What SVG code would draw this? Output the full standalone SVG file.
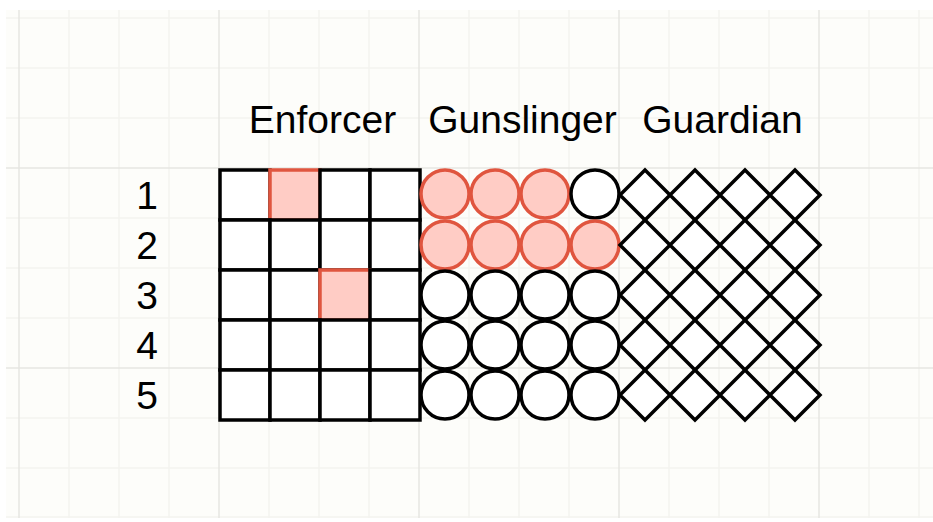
<svg xmlns="http://www.w3.org/2000/svg" width="933" height="522" viewBox="0 0 933 522">
<style>
.minor{stroke:#f3f3ef;stroke-width:1.5}
.major{stroke:#e6e6e2;stroke-width:1.5}
.lbl{font-family:"Liberation Sans",Arial,sans-serif;font-size:39px;fill:#000}
.cell{fill:#fff;stroke:#000;stroke-width:3.5}
.hit{fill:#ffccc5;stroke:#e0553f;stroke-width:3.5}
</style>
<rect x="0" y="0" width="933" height="522" fill="#ffffff"/>
<rect x="6" y="10" width="927" height="508" fill="#fdfdfa"/>
<g id="grid">
<g class="minor">
<line x1="69" y1="10" x2="69" y2="518"/><line x1="119" y1="10" x2="119" y2="518"/><line x1="169" y1="10" x2="169" y2="518"/>
<line x1="269" y1="10" x2="269" y2="518"/><line x1="319" y1="10" x2="319" y2="518"/><line x1="369" y1="10" x2="369" y2="518"/>
<line x1="469" y1="10" x2="469" y2="518"/><line x1="519" y1="10" x2="519" y2="518"/><line x1="569" y1="10" x2="569" y2="518"/>
<line x1="669" y1="10" x2="669" y2="518"/><line x1="719" y1="10" x2="719" y2="518"/><line x1="769" y1="10" x2="769" y2="518"/>
<line x1="869" y1="10" x2="869" y2="518"/><line x1="919" y1="10" x2="919" y2="518"/>
<line x1="6" y1="18" x2="933" y2="18"/><line x1="6" y1="68" x2="933" y2="68"/><line x1="6" y1="118" x2="933" y2="118"/>
<line x1="6" y1="218" x2="933" y2="218"/><line x1="6" y1="268" x2="933" y2="268"/><line x1="6" y1="318" x2="933" y2="318"/>
<line x1="6" y1="418" x2="933" y2="418"/><line x1="6" y1="468" x2="933" y2="468"/><line x1="6" y1="517" x2="933" y2="517"/>
</g>
<g class="major">
<line x1="19" y1="10" x2="19" y2="518"/><line x1="219" y1="10" x2="219" y2="518"/><line x1="419" y1="10" x2="419" y2="518"/>
<line x1="619" y1="10" x2="619" y2="518"/><line x1="819" y1="10" x2="819" y2="518"/>
<line x1="6" y1="168" x2="933" y2="168"/><line x1="6" y1="368" x2="933" y2="368"/>
</g>
</g>
<g id="headers">
<text class="lbl" x="322.5" y="133" text-anchor="middle">Enforcer</text>
<text class="lbl" x="522.5" y="133" text-anchor="middle">Gunslinger</text>
<text class="lbl" x="722.5" y="133" text-anchor="middle">Guardian</text>
</g>
<g id="rows">
<text class="lbl" x="147" y="209" text-anchor="middle">1</text>
<text class="lbl" x="147" y="259" text-anchor="middle">2</text>
<text class="lbl" x="147" y="309" text-anchor="middle">3</text>
<text class="lbl" x="147" y="359" text-anchor="middle">4</text>
<text class="lbl" x="147" y="409" text-anchor="middle">5</text>
</g>
<g id="enforcer">
<rect class="cell" x="220" y="170" width="50" height="50"/><rect class="hit" x="270" y="170" width="50" height="50"/><rect class="cell" x="320" y="170" width="50" height="50"/><rect class="cell" x="370" y="170" width="50" height="50"/>
<rect class="cell" x="220" y="220" width="50" height="50"/><rect class="cell" x="270" y="220" width="50" height="50"/><rect class="cell" x="320" y="220" width="50" height="50"/><rect class="cell" x="370" y="220" width="50" height="50"/>
<rect class="cell" x="220" y="270" width="50" height="50"/><rect class="cell" x="270" y="270" width="50" height="50"/><rect class="hit" x="320" y="270" width="50" height="50"/><rect class="cell" x="370" y="270" width="50" height="50"/>
<rect class="cell" x="220" y="320" width="50" height="50"/><rect class="cell" x="270" y="320" width="50" height="50"/><rect class="cell" x="320" y="320" width="50" height="50"/><rect class="cell" x="370" y="320" width="50" height="50"/>
<rect class="cell" x="220" y="370" width="50" height="50"/><rect class="cell" x="270" y="370" width="50" height="50"/><rect class="cell" x="320" y="370" width="50" height="50"/><rect class="cell" x="370" y="370" width="50" height="50"/>
</g>
<g id="gunslinger">
<circle class="hit" cx="445" cy="194" r="24"/><circle class="hit" cx="495" cy="194" r="24"/><circle class="hit" cx="545" cy="194" r="24"/><circle class="cell" cx="595" cy="194" r="24"/>
<circle class="hit" cx="445" cy="245" r="24"/><circle class="hit" cx="495" cy="245" r="24"/><circle class="hit" cx="545" cy="245" r="24"/><circle class="hit" cx="595" cy="245" r="24"/>
<circle class="cell" cx="445" cy="295" r="24"/><circle class="cell" cx="495" cy="295" r="24"/><circle class="cell" cx="545" cy="295" r="24"/><circle class="cell" cx="595" cy="295" r="24"/>
<circle class="cell" cx="445" cy="345" r="24"/><circle class="cell" cx="495" cy="345" r="24"/><circle class="cell" cx="545" cy="345" r="24"/><circle class="cell" cx="595" cy="345" r="24"/>
<circle class="cell" cx="445" cy="395" r="24"/><circle class="cell" cx="495" cy="395" r="24"/><circle class="cell" cx="545" cy="395" r="24"/><circle class="cell" cx="595" cy="395" r="24"/>
</g>
<g id="guardian">
<defs><path id="dia" class="cell" d="M0,-25 L25,0 L0,25 L-25,0 Z"/></defs>
<use href="#dia" x="645" y="195"/><use href="#dia" x="695" y="195"/><use href="#dia" x="745" y="195"/><use href="#dia" x="795" y="195"/>
<use href="#dia" x="645" y="245"/><use href="#dia" x="695" y="245"/><use href="#dia" x="745" y="245"/><use href="#dia" x="795" y="245"/>
<use href="#dia" x="645" y="295"/><use href="#dia" x="695" y="295"/><use href="#dia" x="745" y="295"/><use href="#dia" x="795" y="295"/>
<use href="#dia" x="645" y="345"/><use href="#dia" x="695" y="345"/><use href="#dia" x="745" y="345"/><use href="#dia" x="795" y="345"/>
<use href="#dia" x="645" y="395"/><use href="#dia" x="695" y="395"/><use href="#dia" x="745" y="395"/><use href="#dia" x="795" y="395"/>
</g>
<g id="connectors"/>
</svg>
